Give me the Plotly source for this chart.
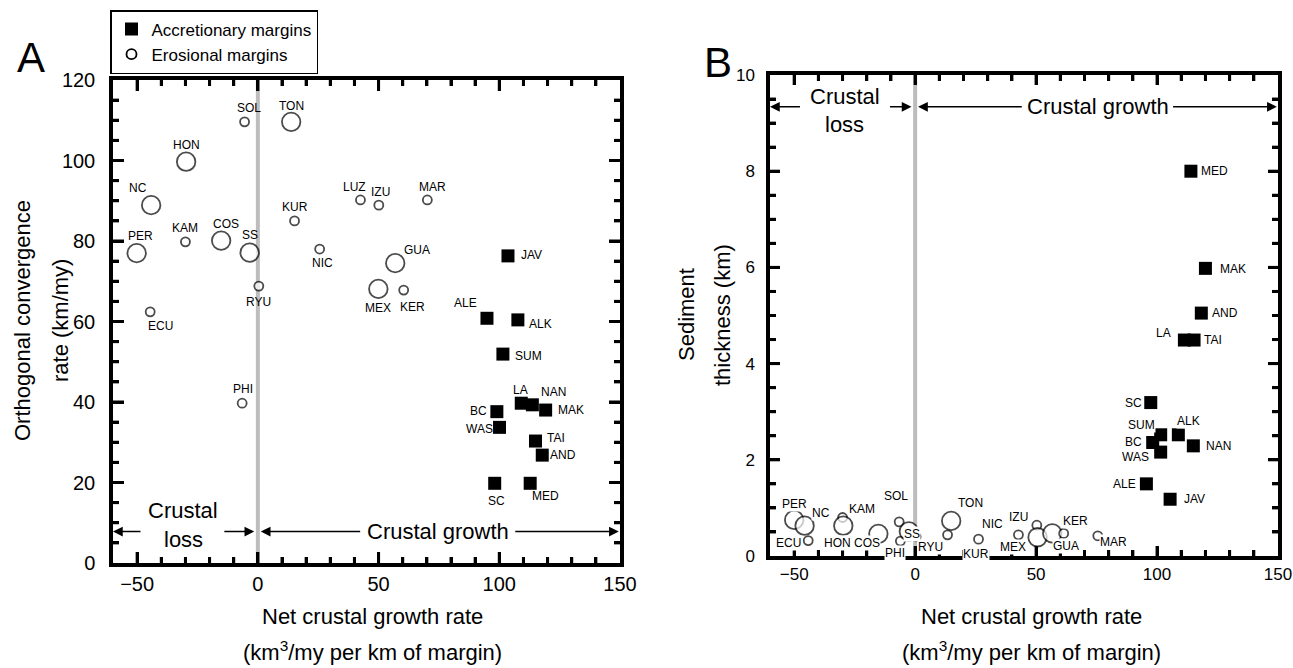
import plotly.graph_objects as go

# ---------------- data ----------------
acc_names = ["JAV", "ALE", "ALK", "SUM", "LA", "NAN", "MAK", "BC", "WAS", "TAI", "AND", "SC", "MED"]
acc_growth_A = [103.6, 94.9, 107.7, 101.5, 109.1, 113.7, 119.2, 99.0, 100.1, 115.0, 117.8, 98.1, 112.8]
acc_conv = [76.3, 60.8, 60.4, 51.9, 39.7, 39.3, 38.0, 37.6, 33.7, 30.3, 26.8, 19.8, 19.8]
acc_growth_B = [105.4, 95.6, 108.8, 101.5, 111.3, 115.0, 120.0, 98.2, 101.5, 115.3, 118.3, 97.4, 114.0]
acc_sed = [1.18, 1.50, 2.52, 2.52, 4.49, 2.29, 5.98, 2.36, 2.16, 4.49, 5.05, 3.19, 8.0]

ero_names = ["PER", "NC", "ECU", "KAM", "HON", "COS", "SOL", "PHI", "SS", "RYU",
             "TON", "KUR", "NIC", "LUZ", "IZU", "MEX", "GUA", "KER", "MAR"]
ero_growth_A = [-50.2, -44.2, -44.6, -30.0, -29.7, -15.2, -5.5, -6.5, -3.4, 0.4,
                13.8, 15.2, 25.6, 42.5, 50.1, 49.9, 56.9, 60.4, 70.2]
ero_conv = [77.0, 88.9, 62.4, 79.8, 99.7, 80.1, 109.6, 39.7, 77.1, 68.8,
            109.6, 85.0, 78.0, 90.2, 88.9, 68.1, 74.5, 67.8, 90.2]
ero_growth_B = [-50.0, -45.7, -44.2, -30.0, -29.7, -15.2, -6.6, -6.1, -2.6, 0.4,
                14.9, 13.4, 26.2, 42.7, 50.3, 50.6, 56.7, 61.4, 75.5]
ero_sed = [0.75, 0.63, 0.32, 0.80, 0.63, 0.46, 0.71, 0.31, 0.51, 0.40,
           0.73, 0.44, 0.35, 0.44, 0.64, 0.39, 0.47, 0.47, 0.42]
ero_large = [1, 1, 0, 0, 1, 1, 0, 0, 1, 0, 1, 0, 0, 0, 0, 1, 1, 0, 0]

# axis ranges and tick spacing
x_range = [-60, 150]
yA_range = [0, 120]
yB_range = [0, 10]
x_major, x_minor = 50, 10
yA_major, yA_minor = 20, 5
yB_major, yB_minor = 2, 0.5

# ---------------- label placement (pixel offsets: right, down) ----------------
offA_acc = [(24, -1), (-21, -15), (23, 4), (26, 2), (-1, -13), (21, -13), (25, 0),
            (-18, -1), (-20, 2), (20, -3), (21, 0), (2, 18), (15, 13)]
offA_ero = [(4, -17), (-13, -17), (10, 14), (0, -14), (0, -17), (5, -17), (4, -14),
            (1, -14), (0, -18), (0, 16), (0, -16), (0, -14), (3, 14), (-6, -13),
            (2, -13), (0, 19), (22, -13), (9, 17), (5, -13)]
offB_acc = [(24, 0), (-22, 0), (10, -14), (-19, -10), (-21, -7), (25, 0), (28, 1),
            (-19, 0), (-25, 5), (19, 0), (24, 0), (-17, 0), (24, 0)]
offB_ero = [(0, -16), (16, -13), (-20, 2), (19, -9), (-6, 17), (-11, 9), (-3, -26),
            (-5, 12), (3, 3), (14, 10), (19, -18), (28, 19), (14, -15), None,
            (-18, -8), (-25, 10), (14, 13), (12, -12), (16, 6)]

FONT = "Liberation Sans, Arial, Helvetica, sans-serif"
W, H = 1293, 668

ero_sizes = [18.5 if l else 9 for l in ero_large]

fig = go.Figure()

sq = dict(symbol="square", size=13, color="black", line=dict(width=0))
circ_line = dict(color="black", width=1.8)

fig.add_trace(go.Scatter(x=acc_growth_A, y=acc_conv, mode="markers", marker=sq,
                         xaxis="x", yaxis="y", showlegend=False, hoverinfo="text", text=acc_names))
fig.add_trace(go.Scatter(x=ero_growth_A, y=ero_conv, mode="markers",
                         marker=dict(symbol="circle", size=ero_sizes, color="white", line=circ_line),
                         xaxis="x", yaxis="y", showlegend=False, hoverinfo="text", text=ero_names))
fig.add_trace(go.Scatter(x=acc_growth_B, y=acc_sed, mode="markers", marker=sq,
                         xaxis="x2", yaxis="y2", showlegend=False, hoverinfo="text", text=acc_names))
fig.add_trace(go.Scatter(x=ero_growth_B, y=ero_sed, mode="markers",
                         marker=dict(symbol="circle", size=ero_sizes, color="white", line=circ_line),
                         xaxis="x2", yaxis="y2", showlegend=False, hoverinfo="text", text=ero_names))

# legend entries
fig.add_trace(go.Scatter(x=[None], y=[None], mode="markers", name="Accretionary margins",
                         marker=dict(symbol="square", size=13, color="black"), xaxis="x", yaxis="y"))
fig.add_trace(go.Scatter(x=[None], y=[None], mode="markers", name="Erosional margins",
                         marker=dict(symbol="circle", size=10, color="white", line=circ_line),
                         xaxis="x", yaxis="y"))

ann = []
def labels(xs, ys, names, offs, xr, yr, bg):
    for x, y, n, o in zip(xs, ys, names, offs):
        if o is None:
            continue
        d = dict(x=x, y=y, xref=xr, yref=yr, text=n, showarrow=False,
                 xshift=o[0], yshift=-o[1], font=dict(size=12, family=FONT, color="black"))
        if bg:
            d.update(bgcolor="white", borderpad=0)
        ann.append(d)

labels(acc_growth_A, acc_conv, acc_names, offA_acc, "x", "y", False)
labels(ero_growth_A, ero_conv, ero_names, offA_ero, "x", "y", False)
labels(acc_growth_B, acc_sed, acc_names, offB_acc, "x2", "y2", True)
labels(ero_growth_B, ero_sed, ero_names, offB_ero, "x2", "y2", True)

def arrow(x_head, x_tail, y, xr, yr):
    ann.append(dict(x=x_head, y=y, ax=x_tail, ay=y, xref=xr, yref=yr, axref=xr, ayref=yr,
                    text="", showarrow=True, arrowhead=2, arrowsize=1.3, arrowwidth=1.5,
                    arrowcolor="black", standoff=0, startstandoff=0))

def txt(x, y, s, xr, yr, size=22):
    ann.append(dict(x=x, y=y, xref=xr, yref=yr, text=s, showarrow=False,
                    font=dict(size=size, family=FONT, color="black")))

# Panel A region annotations
yA_arr = 7.8
arrow(-60, -48, yA_arr, "x", "y")
arrow(-1.5, -14.5, yA_arr, "x", "y")
txt(-31, 13.0, "Crustal", "x", "y")
txt(-31, 5.9, "loss", "x", "y")
arrow(1.2, 43, yA_arr, "x", "y")
arrow(149.5, 106, yA_arr, "x", "y")
txt(74.6, yA_arr, "Crustal growth", "x", "y")

# Panel B region annotations
yB_arr = 9.34
arrow(-60, -47, yB_arr, "x2", "y2")
arrow(-1.5, -11, yB_arr, "x2", "y2")
txt(-29, 9.55, "Crustal", "x2", "y2")
txt(-29, 8.97, "loss", "x2", "y2")
arrow(1.2, 44.7, yB_arr, "x2", "y2")
arrow(149.5, 106, yB_arr, "x2", "y2")
txt(75.5, yB_arr, "Crustal growth", "x2", "y2")

def ptxt(px, py, s, size=22, angle=0):
    ann.append(dict(x=px / W, y=1 - py / H, xref="paper", yref="paper", text=s,
                    showarrow=False, textangle=angle, xanchor="center", yanchor="middle",
                    font=dict(size=size, family=FONT, color="black")))

# axis titles
ptxt(372, 616, "Net crustal growth rate")
ptxt(372, 651, "(km<sup>3</sup>/my per km of margin)")
ptxt(1031, 616, "Net crustal growth rate")
ptxt(1031, 651, "(km<sup>3</sup>/my per km of margin)")
ptxt(22, 321, "Orthogonal convergence", angle=-90)
ptxt(60, 321, "rate (km/my)", angle=-90)
ptxt(686, 315, "Sediment", angle=-90)
ptxt(722, 315, "thickness (km)", angle=-90)
# panel letters
ptxt(31, 58, "A", size=42)
ptxt(718, 63, "B", size=42)

def axis(domain, rng, dtick, dmin, anchor, fsize, standoff, lmaj):
    return dict(domain=domain, range=rng, anchor=anchor, tickmode="linear", tick0=0, dtick=dtick,
                showline=True, linecolor="black", linewidth=3.5, mirror="allticks",
                ticks="inside", ticklen=lmaj, tickwidth=3, tickcolor="black",
                minor=dict(dtick=dmin, tick0=0, ticks="inside", ticklen=6, tickwidth=3,
                           tickcolor="black", showgrid=False),
                showgrid=False, zeroline=False, ticklabelstandoff=standoff,
                tickfont=dict(size=fsize, family=FONT, color="black"))

# inward tick marks on all four sides, placed on each axis' own scale
def frange(a, b, step):
    out, k = [], 0
    while a + k * step <= b + 1e-9:
        out.append(round(a + k * step, 6))
        k += 1
    return out

shapes = []
TW = 3
def tick_marks(xr, yr, xrng, yrng, xmaj, xmin, ymaj, ymin, lmaj, lmin):
    for v in frange(xrng[0], xrng[1], xmin):
        if v <= xrng[0] or v >= xrng[1]:
            continue
        L = lmaj if abs(v / xmaj - round(v / xmaj)) < 1e-6 else lmin
        for anchor_y, sgn in ((yrng[0], 1), (yrng[1], -1)):
            shapes.append(dict(type="line", xref=xr, yref=yr, x0=v, x1=v,
                               ysizemode="pixel", yanchor=anchor_y, y0=0, y1=sgn * L,
                               line=dict(color="black", width=TW), layer="above"))
    for v in frange(yrng[0], yrng[1], ymin):
        if v <= yrng[0] or v >= yrng[1]:
            continue
        L = lmaj if abs(v / ymaj - round(v / ymaj)) < 1e-6 else lmin
        for anchor_x, sgn in ((xrng[0], 1), (xrng[1], -1)):
            shapes.append(dict(type="line", xref=xr, yref=yr, y0=v, y1=v,
                               xsizemode="pixel", xanchor=anchor_x, x0=0, x1=sgn * L,
                               line=dict(color="black", width=TW), layer="above"))

shapes.append(dict(type="line", xref="x", yref="y", x0=0, x1=0, y0=yA_range[0], y1=yA_range[1],
                   line=dict(color="#bdbdbd", width=4), layer="below"))
shapes.append(dict(type="line", xref="x2", yref="y2", x0=0, x1=0, y0=yB_range[0], y1=yB_range[1],
                   line=dict(color="#bdbdbd", width=4), layer="below"))
tick_marks("x", "y", x_range, yA_range, x_major, x_minor, yA_major, yA_minor, 11, 6)
tick_marks("x2", "y2", x_range, yB_range, x_major, x_minor, yB_major, yB_minor, 10, 6)

layout = dict(
    template="none",
    width=W, height=H, margin=dict(l=0, r=0, t=0, b=0, autoexpand=False),
    paper_bgcolor="white", plot_bgcolor="white",
    xaxis=axis([113 / W, 620 / W], x_range, x_major, x_minor, "y", 20, 0, 11),
    yaxis=axis([1 - 563 / H, 1 - 80 / H], yA_range, yA_major, yA_minor, "x", 20, 10, 11),
    xaxis2=axis([770 / W, 1278 / W], x_range, x_major, x_minor, "y2", 17, 0, 10),
    yaxis2=axis([1 - 556 / H, 1 - 75 / H], yB_range, yB_major, yB_minor, "x2", 17, 8, 10),
    showlegend=True,
    legend=dict(x=110 / W, y=1 - 10 / H, xanchor="left", yanchor="top",
                bordercolor="black", borderwidth=1.5, bgcolor="white",
                font=dict(size=17, family=FONT, color="black"), tracegroupgap=0,
                itemwidth=30),
    annotations=ann,
    shapes=shapes,
)
fig.update_layout(**layout)
fig.write_html("out.html", config={"displayModeBar": False})

# remove the browser's default page margin so the figure sits at the window origin
with open("out.html", encoding="utf-8") as f:
    html = f.read()
html = html.replace("<head>", "<head><style>html,body{margin:0;padding:0;overflow:hidden;}</style>", 1)
with open("out.html", "w", encoding="utf-8") as f:
    f.write(html)
